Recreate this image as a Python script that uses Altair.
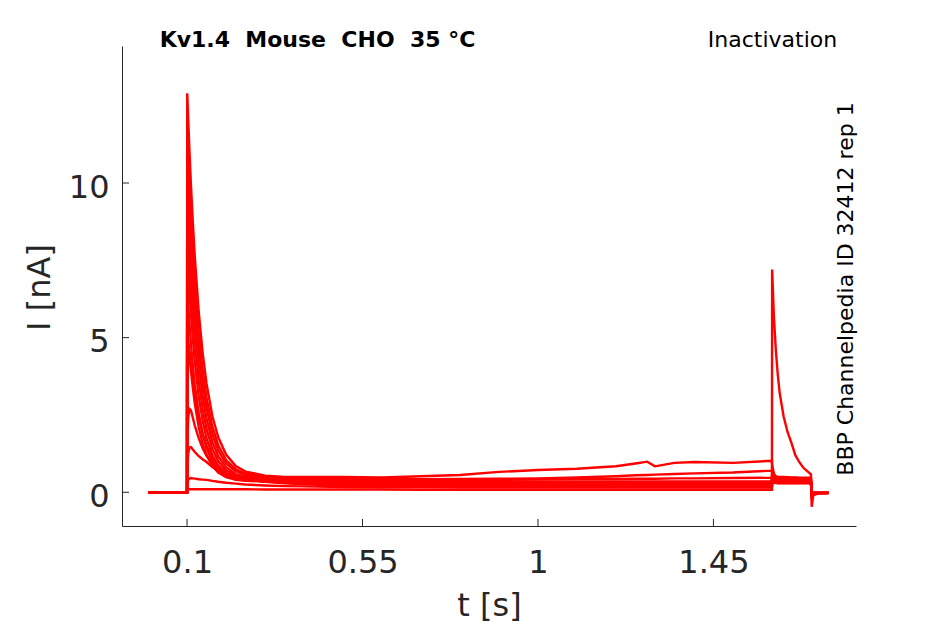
import altair as alt
import pandas as pd

# ---- time grid (s), split into protocol segments ----
BASE_T = [0.0, 0.05, 0.1]
ON_T = [0.1005, 0.103, 0.106, 0.11, 0.115, 0.12, 0.13, 0.14, 0.15, 0.165, 0.18,
        0.2, 0.225, 0.25, 0.3, 0.35, 0.4]
LATE_T = [0.5, 0.6, 0.7, 0.8, 0.9, 1.0, 1.1, 1.2, 1.25, 1.28, 1.3, 1.35, 1.4, 1.5, 1.6]
TEST_T = [1.6005, 1.605, 1.61, 1.615, 1.62, 1.63, 1.64, 1.65, 1.66, 1.67, 1.68, 1.7]
TAIL_T = [1.702, 1.706, 1.72, 1.745]

# holding current before the prepulse (nA)
BASE_I = [0.0, 0.0, 0.0]

# ---- current (nA) per sweep: prepulse onset, late prepulse, test pulse, tail ----
s01_on = [12.9, 12.05, 11.1, 9.95, 8.7, 7.6, 5.83, 4.51, 3.51, 2.46, 1.78, 1.22, 0.85, 0.67, 0.54, 0.5, 0.5]
s01_late = [0.5, 0.48, 0.52, 0.56, 0.66, 0.72, 0.76, 0.84, 0.93, 0.99, 0.84, 0.95, 0.98, 0.95, 1.02]
s01_test = [0.9, 0.6, 0.52, 0.5, 0.5, 0.5, 0.49, 0.48, 0.48, 0.47, 0.47, 0.47]
s01_tail = [-0.1, -0.03, -0.03, -0.03]

s02_on = [12.0, 11.16, 10.23, 9.12, 7.91, 6.86, 5.19, 3.96, 3.05, 2.12, 1.52, 1.04, 0.745, 0.6, 0.51, 0.48, 0.47]
s02_late = [0.45, 0.44, 0.42, 0.43, 0.44, 0.45, 0.48, 0.52, 0.55, 0.56, 0.57, 0.59, 0.61, 0.64, 0.7]
s02_test = [0.75, 0.55, 0.5, 0.49, 0.48, 0.47, 0.47, 0.46, 0.46, 0.45, 0.45, 0.45]
s02_tail = [-0.12, -0.04, -0.03, -0.02]

s03_on = [11.1, 10.3, 9.42, 8.37, 7.23, 6.25, 4.69, 3.56, 2.73, 1.88, 1.35, 0.93, 0.68, 0.56, 0.48, 0.46, 0.45]
s03_late = [0.43, 0.42, 0.41, 0.41, 0.42, 0.42, 0.43, 0.43, 0.44, 0.44, 0.44, 0.45, 0.45, 0.46, 0.47]
s03_test = [0.6, 0.48, 0.44, 0.43, 0.42, 0.42, 0.41, 0.41, 0.41, 0.4, 0.4, 0.4]
s03_tail = [-0.1, -0.03, -0.03, -0.02]

s04_on = [10.1, 9.35, 8.52, 7.54, 6.48, 5.58, 4.16, 3.13, 2.38, 1.63, 1.17, 0.81, 0.59, 0.5, 0.43, 0.42, 0.41]
s04_late = [0.38, 0.37, 0.36, 0.36, 0.36, 0.35, 0.35, 0.35, 0.35, 0.35, 0.35, 0.35, 0.35, 0.35, 0.35]
s04_test = [0.55, 0.45, 0.42, 0.41, 0.4, 0.39, 0.39, 0.38, 0.38, 0.38, 0.38, 0.38]
s04_tail = [-0.1, -0.03, -0.02, -0.02]

s05_on = [9.0, 8.31, 7.56, 6.67, 5.71, 4.89, 3.62, 2.7, 2.05, 1.4, 1.01, 0.71, 0.54, 0.46, 0.41, 0.4, 0.39]
s05_late = [0.35, 0.34, 0.33, 0.33, 0.32, 0.32, 0.32, 0.31, 0.31, 0.31, 0.31, 0.31, 0.31, 0.31, 0.31]
s05_test = [0.5, 0.42, 0.38, 0.37, 0.37, 0.36, 0.36, 0.35, 0.35, 0.35, 0.35, 0.35]
s05_tail = [-0.08, -0.03, -0.02, -0.02]

s06_on = [7.9, 7.28, 6.6, 5.8, 4.94, 4.22, 3.1, 2.31, 1.74, 1.19, 0.87, 0.62, 0.48, 0.42, 0.39, 0.38, 0.37]
s06_late = [0.33, 0.32, 0.31, 0.3, 0.3, 0.29, 0.29, 0.29, 0.29, 0.29, 0.29, 0.29, 0.29, 0.29, 0.29]
s06_test = [0.45, 0.38, 0.35, 0.34, 0.34, 0.34, 0.34, 0.34, 0.34, 0.34, 0.34, 0.34]
s06_tail = [-0.07, -0.02, -0.02, -0.02]

s07_on = [6.6, 6.07, 5.49, 4.8, 4.08, 3.47, 2.54, 1.88, 1.43, 0.98, 0.73, 0.54, 0.43, 0.39, 0.37, 0.36, 0.35]
s07_late = [0.31, 0.3, 0.29, 0.28, 0.28, 0.27, 0.27, 0.27, 0.27, 0.27, 0.27, 0.27, 0.27, 0.27, 0.27]
s07_test = [0.42, 0.36, 0.34, 0.33, 0.33, 0.33, 0.33, 0.33, 0.33, 0.33, 0.33, 0.33]
s07_tail = [-0.06, -0.02, -0.02, -0.02]

s08_on = [5.4, 4.97, 4.5, 3.94, 3.36, 2.86, 2.11, 1.57, 1.21, 0.85, 0.64, 0.49, 0.4, 0.37, 0.35, 0.34, 0.33]
s08_late = [0.29, 0.28, 0.27, 0.26, 0.26, 0.25, 0.25, 0.25, 0.25, 0.25, 0.25, 0.25, 0.25, 0.25, 0.25]
s08_test = [0.4, 0.34, 0.33, 0.32, 0.32, 0.32, 0.32, 0.32, 0.32, 0.32, 0.32, 0.32]
s08_tail = [-0.05, -0.02, -0.02, -0.02]

s09_on = [3.2, 4.3, 4.55, 4.1, 3.6, 3.15, 2.45, 1.9, 1.5, 1.1, 0.82, 0.6, 0.47, 0.4, 0.35, 0.33, 0.32]
s09_late = [0.28, 0.27, 0.26, 0.25, 0.24, 0.24, 0.23, 0.23, 0.23, 0.23, 0.23, 0.23, 0.23, 0.23, 0.23]
s09_test = [0.38, 0.33, 0.32, 0.31, 0.31, 0.31, 0.31, 0.31, 0.31, 0.31, 0.31, 0.31]
s09_tail = [-0.04, -0.02, -0.02, -0.02]

s10_on = [1.5, 2.4, 2.7, 2.65, 2.4, 2.15, 1.75, 1.42, 1.18, 0.92, 0.74, 0.58, 0.47, 0.41, 0.35, 0.32, 0.3]
s10_late = [0.27, 0.25, 0.24, 0.23, 0.23, 0.22, 0.22, 0.22, 0.22, 0.22, 0.22, 0.22, 0.22, 0.22, 0.22]
s10_test = [0.36, 0.32, 0.31, 0.3, 0.3, 0.3, 0.3, 0.3, 0.3, 0.3, 0.3, 0.3]
s10_tail = [-0.04, -0.02, -0.02, -0.02]

s11_on = [0.8, 1.25, 1.45, 1.46, 1.38, 1.3, 1.17, 1.07, 0.98, 0.82, 0.7, 0.6, 0.5, 0.43, 0.34, 0.29, 0.26]
s11_late = [0.22, 0.2, 0.19, 0.19, 0.19, 0.19, 0.19, 0.19, 0.19, 0.19, 0.19, 0.19, 0.19, 0.19, 0.19]
s11_test = [0.36, 0.31, 0.3, 0.3, 0.3, 0.3, 0.3, 0.3, 0.3, 0.3, 0.3, 0.3]
s11_tail = [-0.03, -0.02, -0.02, -0.02]

s12_on = [0.3, 0.4, 0.44, 0.46, 0.45, 0.44, 0.42, 0.41, 0.4, 0.37, 0.34, 0.31, 0.28, 0.25, 0.22, 0.2, 0.19]
s12_late = [0.17, 0.16, 0.16, 0.15, 0.15, 0.15, 0.15, 0.15, 0.15, 0.15, 0.15, 0.15, 0.15, 0.15, 0.15]
s12_test = [0.5, 0.34, 0.31, 0.3, 0.3, 0.3, 0.3, 0.3, 0.3, 0.3, 0.3, 0.3]
s12_tail = [-0.03, -0.02, -0.02, -0.02]

s13_on = [0.1, 0.1, 0.1, 0.1, 0.1, 0.1, 0.1, 0.1, 0.1, 0.1, 0.1, 0.1, 0.1, 0.1, 0.09, 0.09, 0.09]
s13_late = [0.09, 0.09, 0.08, 0.08, 0.08, 0.08, 0.08, 0.08, 0.08, 0.08, 0.08, 0.08, 0.08, 0.08, 0.08]
s13_test = [7.2, 5.7, 4.6, 3.8, 3.2, 2.45, 1.95, 1.6, 1.2, 0.98, 0.8, 0.58]
s13_tail = [-0.47, -0.1, -0.03, -0.03]

SWEEPS = [
    (s01_on, s01_late, s01_test, s01_tail),
    (s02_on, s02_late, s02_test, s02_tail),
    (s03_on, s03_late, s03_test, s03_tail),
    (s04_on, s04_late, s04_test, s04_tail),
    (s05_on, s05_late, s05_test, s05_tail),
    (s06_on, s06_late, s06_test, s06_tail),
    (s07_on, s07_late, s07_test, s07_tail),
    (s08_on, s08_late, s08_test, s08_tail),
    (s09_on, s09_late, s09_test, s09_tail),
    (s10_on, s10_late, s10_test, s10_tail),
    (s11_on, s11_late, s11_test, s11_tail),
    (s12_on, s12_late, s12_test, s12_tail),
    (s13_on, s13_late, s13_test, s13_tail),
]

XTICKS = [0.1, 0.55, 1, 1.45]
YTICKS = [0, 5, 10]
X_DOMAIN = [-0.0668, 1.8156]
Y_DOMAIN = [-1.09, 14.43]

NB = "\u00a0"
TITLE = f"Kv1.4{NB} Mouse{NB} CHO{NB} 35 °C"
PROTOCOL = "Inactivation"
SOURCE = "BBP Channelpedia ID 32412 rep 1"

# ---- build long table ----
T_ALL = BASE_T + ON_T + LATE_T + TEST_T + TAIL_T
rows = []
for k, (on, late, test, tail) in enumerate(SWEEPS):
    vals = BASE_I + on + late + test + tail
    assert len(vals) == len(T_ALL), (k, len(vals), len(T_ALL))
    for j, (t, v) in enumerate(zip(T_ALL, vals)):
        rows.append({"t": t, "I": v, "sweep": k, "idx": j})
df = pd.DataFrame(rows)

W, H = 734, 480
INK = "#262626"
FONT = "DejaVu Sans"

x_scale = alt.Scale(domain=X_DOMAIN, nice=False, zero=False)
y_scale = alt.Scale(domain=Y_DOMAIN, nice=False, zero=False)

x_axis = alt.Axis(values=XTICKS, labelExpr="'' + datum.value", title="t [s]",
                  titleX=367, titleY=89, titleAlign="center", titleBaseline="alphabetic",
                  titleFont=FONT, titleFontSize=32, titleFontWeight="normal", titleColor=INK,
                  labelFont=FONT, labelFontSize=32, labelColor=INK, labelPadding=21,
                  labelFlush=False, ticks=False, tickSize=0, grid=False,
                  domainColor=INK, domainWidth=1)
y_axis = alt.Axis(values=YTICKS, labelExpr="'' + datum.value", title="I [nA]",
                  titleAngle=270, titleX=-73, titleY=241, titleAlign="center",
                  titleBaseline="alphabetic",
                  titleFont=FONT, titleFontSize=32, titleFontWeight="normal", titleColor=INK,
                  labelFont=FONT, labelFontSize=32, labelColor=INK, labelPadding=13,
                  labelOffset=4, labelFlush=False, ticks=False, tickSize=0, grid=False,
                  domainColor=INK, domainWidth=1)

lines = alt.Chart(df).mark_line(color="#ff0000", strokeWidth=2.4, clip=True).encode(
    x=alt.X("t:Q", scale=x_scale, axis=x_axis),
    y=alt.Y("I:Q", scale=y_scale, axis=y_axis),
    detail="sweep:N",
    order="idx:Q",
)

# inward tick marks (same axis definition so the shared axis is kept)
xticks = alt.Chart(pd.DataFrame({"t": XTICKS})).mark_rule(color=INK, strokeWidth=1).encode(
    x=alt.X("t:Q", scale=x_scale, axis=x_axis),
    y=alt.value(H), y2=alt.value(H - 7),
)
yticks = alt.Chart(pd.DataFrame({"I": YTICKS})).mark_rule(color=INK, strokeWidth=1).encode(
    y=alt.Y("I:Q", scale=y_scale, axis=y_axis),
    x=alt.value(0), x2=alt.value(7),
)

title = alt.Chart(pd.DataFrame({"s": [TITLE]})).mark_text(
    font=FONT, fontSize=22, fontWeight="bold", align="center", baseline="alphabetic",
    color="black").encode(x=alt.value(195.5), y=alt.value(1), text="s:N")
proto = alt.Chart(pd.DataFrame({"s": [PROTOCOL]})).mark_text(
    font=FONT, fontSize=22, align="center", baseline="alphabetic",
    color="black").encode(x=alt.value(650.5), y=alt.value(1), text="s:N")
source = alt.Chart(pd.DataFrame({"s": [SOURCE]})).mark_text(
    font=FONT, fontSize=22, align="center", baseline="alphabetic", angle=270,
    color="black").encode(x=alt.value(731), y=alt.value(243), text="s:N")

chart = alt.layer(lines, xticks, yticks, title, proto, source).properties(
    width=W, height=H,
    padding={"left": 114, "top": 38, "right": 81, "bottom": 98},
    autosize=alt.AutoSizeParams(type="none"),
).configure_view(stroke=None)

chart.save("out.html", embed_options={"renderer": "svg", "actions": False})
